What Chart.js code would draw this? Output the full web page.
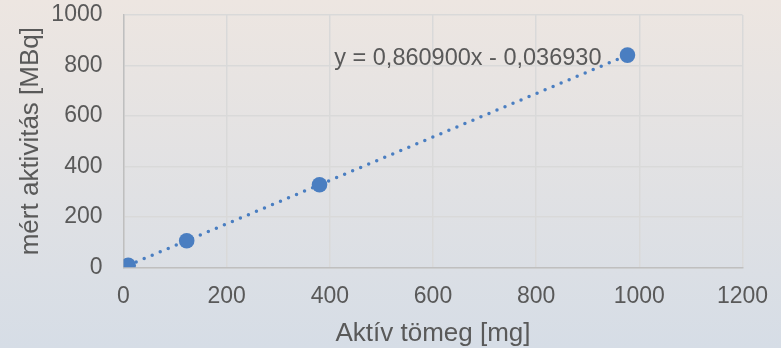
<!DOCTYPE html>
<html>
<head>
<meta charset="utf-8">
<script src="https://cdn.jsdelivr.net/npm/chart.js@4/dist/chart.umd.min.js"></script>
<style>
html,body{margin:0;padding:0;background:#e3e2e4;}
#wrap{width:781px;height:348px;position:relative;}
</style>
</head>
<body>
<div id="wrap"><canvas id="c" width="781" height="348"></canvas></div>
<script>
// Data
const massMg = [9, 122.5, 380, 977];          // Aktív tömeg [mg]
const activityMBq = [7.7, 105.4, 327, 841];   // mért aktivitás [MBq]
// Trendline end points (Excel linear trendline across the data range)
const trendX = [9, 977];
const trendY = [7.7, 841.1];
const equationText = 'y = 0,860900x - 0,036930';
const xTicks = [0, 200, 400, 600, 800, 1000, 1200];
const yTicks = [0, 200, 400, 600, 800, 1000];

const textColor = '#595959';
const blue = '#4a7ec1';
const fontFamily = '"Liberation Sans", Arial, sans-serif';

const bgPlugin = {
  id: 'bg',
  beforeDraw(chart) {
    const {ctx, width, height} = chart;
    const g = ctx.createLinearGradient(0, 0, 0, height);
    g.addColorStop(0, '#ede6e1');
    g.addColorStop(1, '#d6dde6');
    ctx.save();
    ctx.fillStyle = g;
    ctx.fillRect(0, 0, width, height);
    ctx.restore();
  }
};

const eqPlugin = {
  id: 'eq',
  afterDatasetsDraw(chart) {
    const meta = chart.getDatasetMeta(0);
    const last = meta.data[meta.data.length - 1];
    const ctx = chart.ctx;
    ctx.save();
    ctx.font = '23.5px ' + fontFamily;
    ctx.fillStyle = textColor;
    ctx.textAlign = 'right';
    ctx.textBaseline = 'alphabetic';
    ctx.fillText(equationText, last.x - 26, last.y + 10);
    ctx.restore();
  }
};

function zeroPad(scale) {
  scale.paddingTop = 0; scale.paddingBottom = 0;
  scale.paddingLeft = 0; scale.paddingRight = 0;
}

new Chart(document.getElementById('c'), {
  type: 'scatter',
  data: {
    datasets: [
      {
        label: 'mért',
        data: massMg.map((x, i) => ({x, y: activityMBq[i]})),
        backgroundColor: blue,
        borderColor: blue,
        pointRadius: 7.8,
        pointHoverRadius: 7.8,
        borderWidth: 0,
        order: 0
      },
      {
        label: 'trend',
        data: trendX.map((x, i) => ({x, y: trendY[i]})),
        showLine: true,
        borderColor: blue,
        borderWidth: 3.5,
        borderDash: [0, 8.7],
        borderCapStyle: 'round',
        pointRadius: 0,
        fill: false,
        order: 1
      }
    ]
  },
  plugins: [bgPlugin, eqPlugin],
  options: {
    responsive: false,
    animation: false,
    events: [],
    layout: {padding: {left: 0, top: 15, right: 38.5, bottom: 0}},
    plugins: {legend: {display: false}, tooltip: {enabled: false}},
    scales: {
      x: {
        type: 'linear',
        min: 0, max: 1200,
        afterBuildTicks(scale) { scale.ticks = xTicks.map(v => ({value: v})); },
        afterFit(scale) { scale.height = 348 - 267.3; zeroPad(scale); },
        grid: {color: '#d9d9d9', lineWidth: 1.5, drawTicks: false},
        border: {display: true, color: '#bfbfbf', width: 1.5},
        ticks: {color: textColor, font: {family: fontFamily, size: 23}, padding: 16, maxRotation: 0,
                callback: v => String(v)},
        title: {display: true, text: 'Aktív tömeg [mg]', color: textColor,
                font: {family: fontFamily, size: 26, lineHeight: 1.1}, padding: {top: 0, bottom: 0}}
      },
      y: {
        type: 'linear',
        min: 0, max: 1000,
        afterBuildTicks(scale) { scale.ticks = yTicks.map(v => ({value: v})); },
        afterFit(scale) { scale.width = 123.5; zeroPad(scale); },
        grid: {color: '#d9d9d9', lineWidth: 1.5, drawTicks: false},
        border: {display: true, color: '#bfbfbf', width: 1.5},
        ticks: {color: textColor, font: {family: fontFamily, size: 23}, padding: 21,
                callback: v => String(v)},
        title: {display: true, text: 'mért aktivitás [MBq]', color: textColor,
                font: {family: fontFamily, size: 26, lineHeight: 1.2}, padding: {top: 15, bottom: 0}}
      }
    }
  }
});
</script>
</body>
</html>
